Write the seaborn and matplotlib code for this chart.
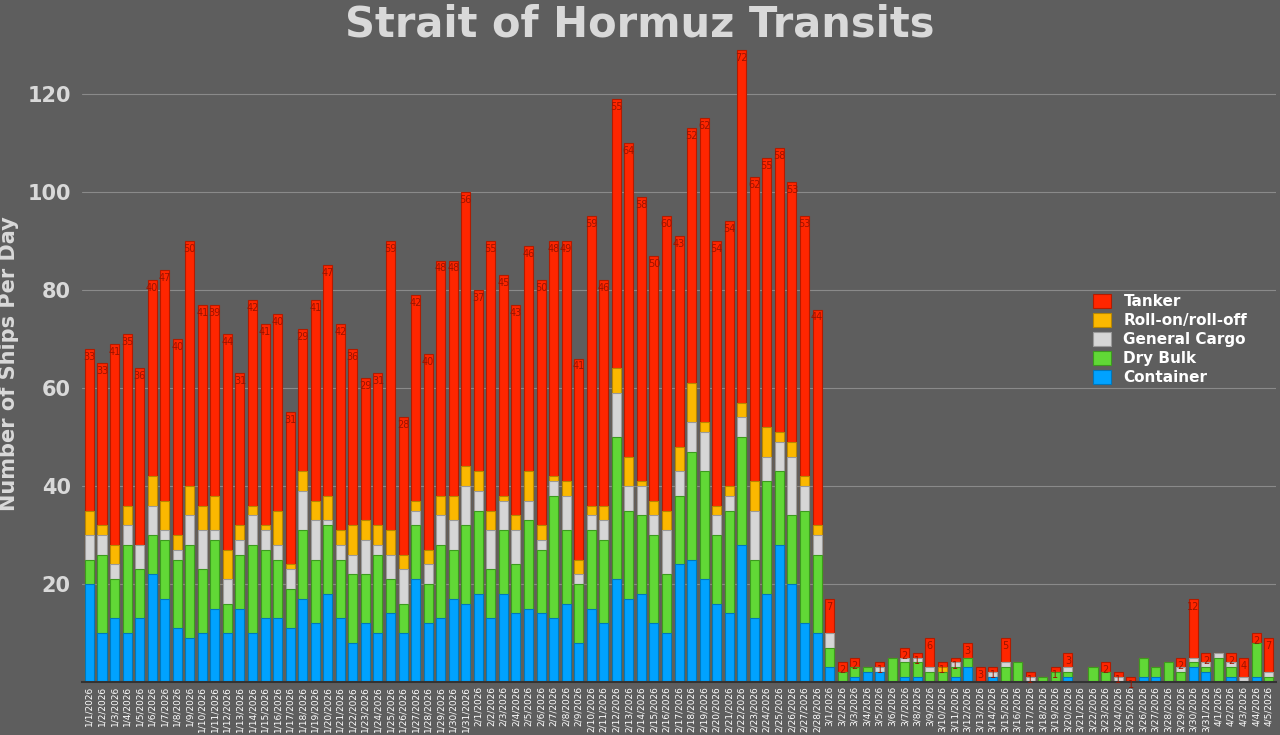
import numpy as np
import pandas as pd
import matplotlib
matplotlib.use("Agg")
import matplotlib.pyplot as plt
import seaborn as sns

# Datos (barcos por día, por tipo), por mes
fechas = ([f"1/{d}/2026" for d in range(1, 32)] + [f"2/{d}/2026" for d in range(1, 29)]
          + [f"3/{d}/2026" for d in range(1, 32)] + [f"4/{d}/2026" for d in range(1, 6)])

container_ene = [20, 10, 13, 10, 13, 22, 17, 11, 9, 10, 15, 10, 15, 10, 13, 13, 11, 17, 12, 18, 13, 8, 12, 10, 14, 10, 21, 12, 13, 17, 16]
container_feb = [18, 13, 18, 14, 15, 14, 13, 16, 8, 15, 12, 21, 17, 18, 12, 10, 24, 25, 21, 16, 14, 28, 13, 18, 28, 20, 12, 10]
container_mar_abr = [3, 0, 1, 2, 2, 0, 1, 1, 0, 0, 1, 3, 0, 1, 0, 0, 0, 0, 0, 1, 0, 0, 0, 0, 0, 1, 1, 0, 0, 3, 2,
                     0, 1, 0, 1, 0]

dry_ene = [5, 16, 8, 18, 10, 8, 12, 14, 19, 13, 14, 6, 11, 18, 14, 12, 8, 14, 13, 14, 12, 14, 10, 16, 7, 6, 11, 8, 15, 10, 16]
dry_feb = [17, 10, 13, 10, 18, 13, 25, 15, 12, 16, 17, 29, 18, 16, 18, 12, 14, 22, 22, 14, 21, 22, 12, 23, 15, 14, 23, 16]
dry_mar_abr = [4, 2, 2, 1, 0, 5, 3, 3, 2, 2, 2, 2, 0, 0, 3, 4, 0, 1, 2, 1, 0, 3, 2, 0, 0, 4, 2, 4, 2, 1, 1,
               5, 2, 0, 7, 1]

gen_ene = [5, 4, 3, 4, 5, 6, 2, 2, 6, 8, 2, 5, 3, 6, 4, 3, 4, 8, 8, 1, 3, 4, 7, 2, 5, 7, 3, 4, 6, 6, 8]
gen_feb = [4, 8, 6, 7, 4, 2, 3, 7, 2, 3, 4, 9, 5, 6, 4, 9, 5, 6, 8, 4, 3, 4, 10, 5, 6, 12, 5, 4]
gen_mar_abr = [3, 0, 0, 0, 1, 0, 1, 1, 1, 0, 1, 0, 0, 1, 1, 0, 1, 0, 0, 1, 0, 0, 0, 1, 0, 0, 0, 0, 1, 1, 1,
               1, 1, 1, 0, 1]

roro_ene = [5, 2, 4, 4, 0, 6, 6, 3, 6, 5, 7, 6, 3, 2, 1, 7, 1, 4, 4, 5, 3, 6, 4, 4, 5, 3, 2, 3, 4, 5, 4]
roro_feb = [4, 4, 1, 3, 6, 3, 1, 3, 3, 2, 3, 5, 6, 1, 3, 4, 5, 8, 2, 2, 2, 3, 6, 6, 2, 3, 2, 2]
roro_mar_abr = [0, 0, 0, 0, 0, 0, 0, 0, 0, 1, 0, 0, 0, 0, 0, 0, 0, 0, 0, 0, 0, 0, 0, 0, 0, 0, 0, 0, 0, 0, 0,
                0, 0, 0, 0, 0]

tanker_ene = [33, 33, 41, 35, 36, 40, 47, 40, 50, 41, 39, 44, 31, 42, 41, 40, 31, 29, 41, 47, 42, 36, 29, 31, 59, 28, 42, 40, 48, 48, 56]
tanker_feb = [37, 55, 45, 43, 46, 50, 48, 49, 41, 59, 46, 55, 64, 58, 50, 60, 43, 52, 62, 54, 54, 72, 62, 55, 58, 53, 53, 44]
tanker_mar_abr = [7, 2, 2, 0, 1, 0, 2, 1, 6, 1, 1, 3, 3, 1, 5, 0, 1, 0, 1, 3, 0, 0, 2, 1, 1, 0, 0, 0, 2, 12, 2,
                  0, 2, 4, 2, 7]

tipos = ["Container", "Dry Bulk", "General Cargo", "Roll-on/roll-off", "Tanker"]
colores = ["#00a2ff", "#61d836", "#d6d6d6", "#fbb800", "#ff2600"]
bordes = ["#0077bb", "#3c9a1e", "#9a9a9a", "#b88600", "#b31b00"]

df = pd.DataFrame({
    "fecha": fechas,
    "Container": container_ene + container_feb + container_mar_abr,
    "Dry Bulk": dry_ene + dry_feb + dry_mar_abr,
    "General Cargo": gen_ene + gen_feb + gen_mar_abr,
    "Roll-on/roll-off": roro_ene + roro_feb + roro_mar_abr,
    "Tanker": tanker_ene + tanker_feb + tanker_mar_abr,
})
acum = df[tipos].cumsum(axis=1)

fondo = "#5e5e5e"
texto = "#d9d9d9"
sns.set_style("dark")
plt.rcParams["font.family"] = ["DejaVu Sans"]

fig, ax = plt.subplots(figsize=(12.8, 7.35), dpi=100)
fig.patch.set_facecolor(fondo)
ax.set_facecolor(fondo)
fig.subplots_adjust(left=0.064, right=0.997, bottom=0.072, top=0.939)

# Barras apiladas: de la capa superior a la inferior
for i in range(len(tipos) - 1, -1, -1):
    sns.barplot(x=df["fecha"], y=acum[tipos[i]], color=colores[i], edgecolor=bordes[i],
                linewidth=0.8, width=0.72, saturation=1, ax=ax, label=tipos[i], zorder=2)

# Etiquetas de Tanker
for j, v in enumerate(df["Tanker"]):
    if v > 0:
        ax.text(j, acum["Tanker"][j] - 0.6, str(v), ha="center", va="top",
                fontsize=7, color="#9a1400", zorder=3)

ax.set_ylim(0, 130)
ax.set_xlim(-0.6, len(fechas) - 0.4)
ax.set_yticks([20, 40, 60, 80, 100, 120])
ax.yaxis.grid(True, color="#8a8a8a", linewidth=0.8, zorder=0)
ax.xaxis.grid(False)
ax.tick_params(axis="y", labelsize=15, colors=texto, length=0, pad=8)
for t in ax.get_yticklabels():
    t.set_fontweight("bold")
ax.tick_params(axis="x", labelsize=6.5, colors="white", rotation=90, length=0, pad=3)
for s in ["top", "right", "left"]:
    ax.spines[s].set_visible(False)
ax.spines["bottom"].set_color("#333333")
ax.spines["bottom"].set_linewidth(1.5)

ax.set_xlabel("")
ax.set_ylabel("Number of Ships Per Day", fontsize=15, fontweight="bold", color=texto, labelpad=6)
fig.suptitle("Strait of Hormuz Transits", fontsize=30, fontweight="bold", color=texto, y=0.995)

h, l = ax.get_legend_handles_labels()
leg = ax.legend(h, l, loc="upper left", bbox_to_anchor=(0.835, 0.63), frameon=False,
                fontsize=11, handlelength=1.2, handleheight=1.0, labelspacing=0.25)
for t in leg.get_texts():
    t.set_color("white")
    t.set_fontweight("bold")

fig.savefig("out.png", dpi=100, facecolor=fondo)
